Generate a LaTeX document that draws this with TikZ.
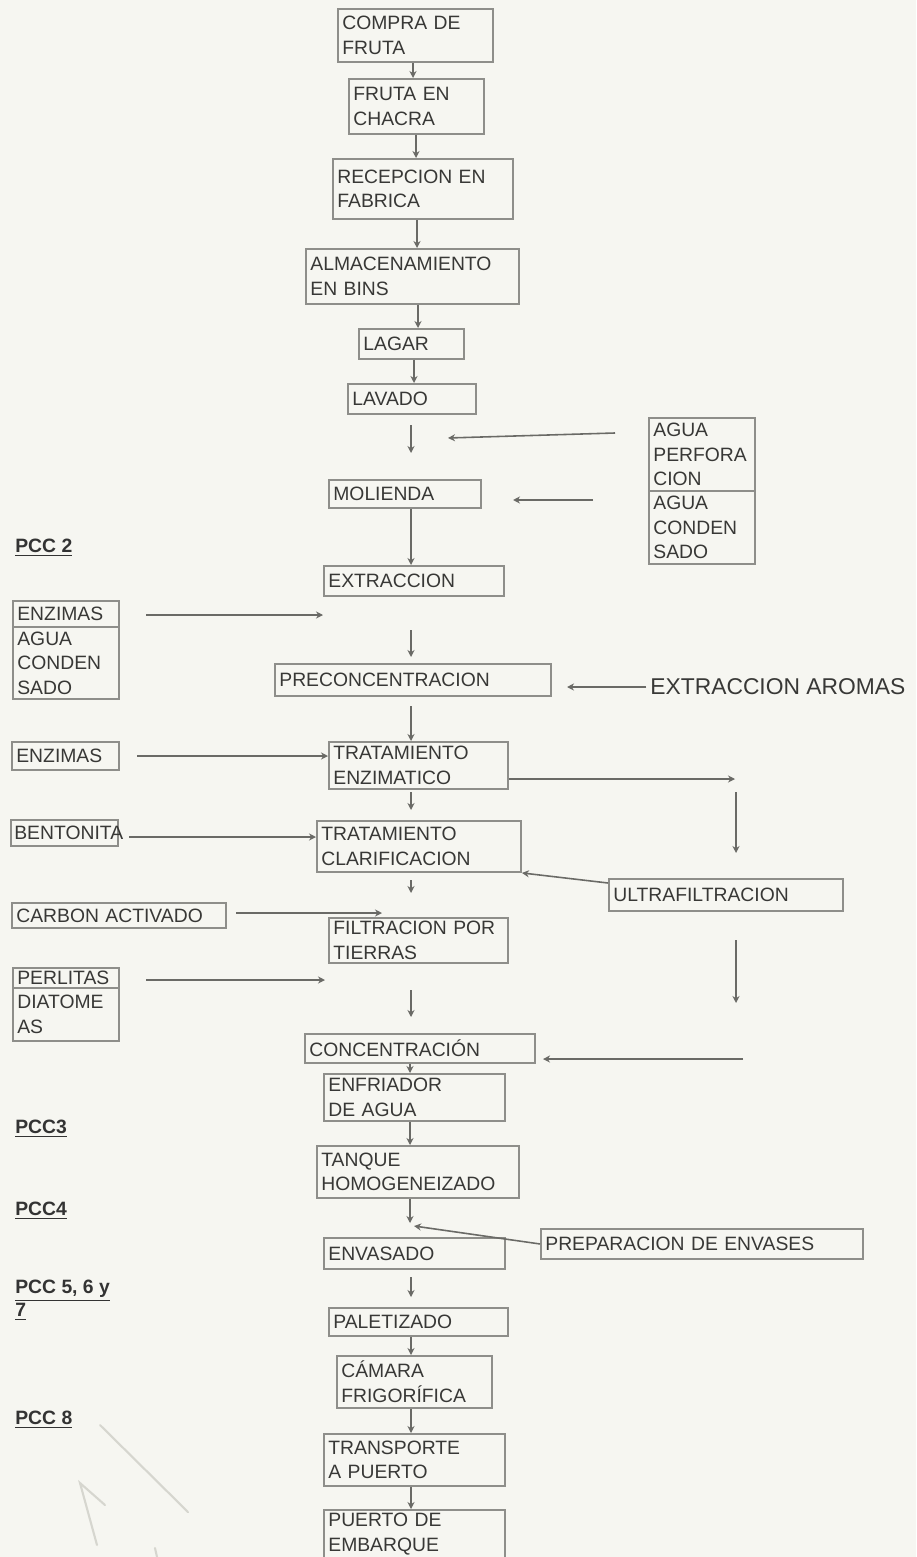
\documentclass[tikz,border=0pt]{standalone}
\usepackage{fontspec}
\setmainfont{Liberation Sans}
\usetikzlibrary{arrows.meta,calc}
\definecolor{bg}{HTML}{F6F6F1}
\definecolor{bord}{HTML}{8E8E8A}
\definecolor{ln}{HTML}{6A6A66}
\definecolor{tx}{HTML}{383836}
\definecolor{pen}{HTML}{D6D6CF}
\tikzset{
  bx/.style={draw=bord, line width=1.1pt, anchor=north west, inner xsep=2.5pt, inner ysep=1pt,
    align=left, font=\fontsize{11}{14}\selectfont, text=tx},
  arr/.style={draw=ln, line width=0.9pt, -{Stealth[length=4pt,width=4pt]}},
  pcc/.style={anchor=west, inner sep=0pt, align=left, font=\bfseries\fontsize{11}{13}\selectfont, text=black!80},
  penline/.style={draw=pen, line width=1.2pt, line cap=round}
}
\newcommand{\fbx}[6]{%
  \pgfmathsetmacro{\myTW}{(#4-#2)*0.02*28.45274-5}%
  \pgfmathsetmacro{\myBH}{(#5-#3)*0.02*28.45274}%
  \node[bx, text width=\myTW pt, minimum height=\myBH pt] (#1) at (#2,#3) {#6};}
\begin{document}
\begin{tikzpicture}[x=0.02cm,y=-0.02cm]
\fill[bg] (0,0) rectangle (916,1557);
\useasboundingbox (0,0) rectangle (916,1557);
\clip (0,0) rectangle (916,1557);

% central column
\fbx{compra}{337}{8}{492}{61}{COMPRA DE\\FRUTA}
\fbx{fruta}{348}{78}{483}{133}{FRUTA EN\\CHACRA}
\fbx{recep}{332}{158}{512}{218}{RECEPCION EN\\FABRICA}
\fbx{almac}{305}{248}{518}{303}{ALMACENAMIENTO\\EN BINS}
\fbx{lagar}{358}{328}{463}{358}{LAGAR}
\fbx{lavado}{347}{383}{475}{413}{LAVADO}
\fbx{molienda}{328}{479}{480}{507}{MOLIENDA}
\fbx{extr}{323}{565}{503}{595}{EXTRACCION}
\fbx{preconc}{274}{663}{550}{695}{PRECONCENTRACION}
\fbx{te}{328}{741}{507}{788}{TRATAMIENTO\\ENZIMATICO}
\fbx{clar}{316}{820}{520}{871}{TRATAMIENTO\\CLARIFICACION}
\fbx{filt}{328}{917}{507}{962}{FILTRACION POR\\TIERRAS}
\fbx{conc}{304}{1033}{534}{1062}{CONCENTRACIÓN}
\fbx{enfr}{323}{1073}{504}{1120}{ENFRIADOR\\DE AGUA}
\fbx{tanque}{316}{1145}{518}{1197}{TANQUE\\HOMOGENEIZADO}
\fbx{envas}{323}{1237}{504}{1268}{ENVASADO}
\fbx{palet}{328}{1307}{507}{1335}{PALETIZADO}
\fbx{camara}{336}{1355}{491}{1407}{CÁMARA\\FRIGORÍFICA}
\fbx{transp}{323}{1433}{504}{1485}{TRANSPORTE\\A PUERTO}
\fbx{puerto}{323}{1509}{504}{1557}{PUERTO DE\\EMBARQUE}

% right side
\fbx{agua1}{648}{417}{754}{490}{AGUA\\PERFORA\\CION}
\fbx{agua2}{648}{490}{754}{563}{AGUA\\CONDEN\\SADO}
\node[anchor=west, inner sep=0pt, font=\fontsize{13}{15}\selectfont, text=tx] (aromas) at (650,687) {EXTRACCION AROMAS};
\fbx{ultra}{608}{878}{842}{910}{ULTRAFILTRACION}
\fbx{prep}{540}{1228}{862}{1258}{PREPARACION DE ENVASES}

% left side
\fbx{enz1}{12}{600}{118}{626}{ENZIMAS}
\fbx{enz1b}{12}{626}{118}{698}{AGUA\\CONDEN\\SADO}
\fbx{enz2}{11}{741}{118}{769}{ENZIMAS}
\draw[draw=bord, line width=1.1pt] (11,820) rectangle (118,846);
\node[anchor=west, inner sep=0pt, font=\fontsize{11}{14}\selectfont, text=tx] (bento) at (14,833) {BENTONITA};
\fbx{carbon}{11}{902}{225}{927}{CARBON ACTIVADO}
\fbx{perl1}{12}{967}{118}{987}{PERLITAS}
\fbx{perl2}{12}{987}{118}{1040}{DIATOME\\AS}

\node[pcc] (pcc2) at (15,548) {\underline{PCC 2}};
\node[pcc] (pcc3) at (15,1129) {\underline{PCC3}};
\node[pcc] (pcc4) at (15,1211) {\underline{PCC4}};
\node[pcc] (pcc5) at (15,1300) {\underline{PCC 5, 6 y}\\\underline{7}};
\node[pcc] (pcc8) at (15,1420) {\underline{PCC 8}};

% coordinates
\coordinate (x413) at (413,0);
\coordinate (x416) at (416,0);
\coordinate (x417) at (417,0);
\coordinate (x418) at (418,0);
\coordinate (x414) at (414,0);
\coordinate (x411) at (411,0);
\coordinate (x410) at (410,0);

% central arrows
\draw[arr] (compra.south -| x413) -- (fruta.north -| x413);
\draw[arr] (fruta.south -| x416) -- (recep.north -| x416);
\draw[arr] (recep.south -| x417) -- (almac.north -| x417);
\draw[arr] (almac.south -| x418) -- (lagar.north -| x418);
\draw[arr] (lagar.south -| x414) -- (lavado.north -| x414);
\coordinate (g1a) at (411,425); \coordinate (g1b) at (411,453);
\draw[arr] (g1a) -- (g1b);
\draw[arr] (molienda.south -| x411) -- (extr.north -| x411);
\coordinate (g2a) at (411,630); \coordinate (g2b) at (411,657);
\draw[arr] (g2a) -- (g2b);
\coordinate (g3a) at (411,706);
\draw[arr] (g3a) -- (te.north -| x411);
\coordinate (g4a) at (411,792); \coordinate (g4b) at (411,810);
\draw[arr] (g4a) -- (g4b);
\coordinate (g5a) at (411,880); \coordinate (g5b) at (411,893);
\draw[arr] (g5a) -- (g5b);
\coordinate (g6a) at (411,990); \coordinate (g6b) at (411,1017);
\draw[arr] (g6a) -- (g6b);
\draw[arr] (conc.south -| x410) -- (enfr.north -| x410);
\draw[arr] (enfr.south -| x410) -- (tanque.north -| x410);
\coordinate (jn) at (410,1223);
\draw[arr] (tanque.south -| x410) -- (jn);
\coordinate (g7a) at (411,1277); \coordinate (g7b) at (411,1297);
\draw[arr] (g7a) -- (g7b);
\draw[arr] (palet.south -| x411) -- (camara.north -| x411);
\draw[arr] (camara.south -| x411) -- (transp.north -| x411);
\draw[arr] (transp.south -| x411) -- (puerto.north -| x411);

% right arrows
\coordinate (a1s) at (615,433); \coordinate (a1e) at (448,438);
\draw[arr] (a1s) -- (a1e);
\coordinate (a2s) at (593,500); \coordinate (a2e) at (513,500);
\draw[arr] (a2s) -- (a2e);
\coordinate (are) at (567,687);
\draw[arr] ([xshift=-2pt]aromas.west) -- (are);
\coordinate (r1) at (735,779);
\draw[arr] (r1 -| te.east) -- (r1);
\coordinate (v1a) at (736,792); \coordinate (v1b) at (736,853);
\draw[arr] (v1a) -- (v1b);
\coordinate (u1) at (608,883);
\draw[arr] (u1) -- (clar.south east);
\coordinate (v2a) at (736,940); \coordinate (v2b) at (736,1003);
\draw[arr] (v2a) -- (v2b);
\coordinate (c1s) at (743,1059); \coordinate (c1e) at (543,1059);
\draw[arr] (c1s) -- (c1e);
\coordinate (jn2) at (414,1226);
\draw[arr] (prep.west) -- (jn2);

% left arrows
\coordinate (l1s) at (146,615); \coordinate (l1e) at (323,615);
\draw[arr] (l1s) -- (l1e);
\coordinate (l2s) at (137,756);
\draw[arr] (l2s) -- (l2s -| te.west);
\coordinate (l3s) at (129,837);
\draw[arr] (l3s) -- (l3s -| clar.west);
\coordinate (l4s) at (236,913); \coordinate (l4e) at (382,913);
\draw[arr] (l4s) -- (l4e);
\coordinate (l5s) at (146,980); \coordinate (l5e) at (325,980);
\draw[arr] (l5s) -- (l5e);

% faint pencil marks
\draw[penline] (100,1425) -- (188,1512);
\draw[penline] (97,1545) -- (80,1483) -- (105,1505);
\draw[penline] (155,1548) -- (157,1557);
\end{tikzpicture}
\end{document}
